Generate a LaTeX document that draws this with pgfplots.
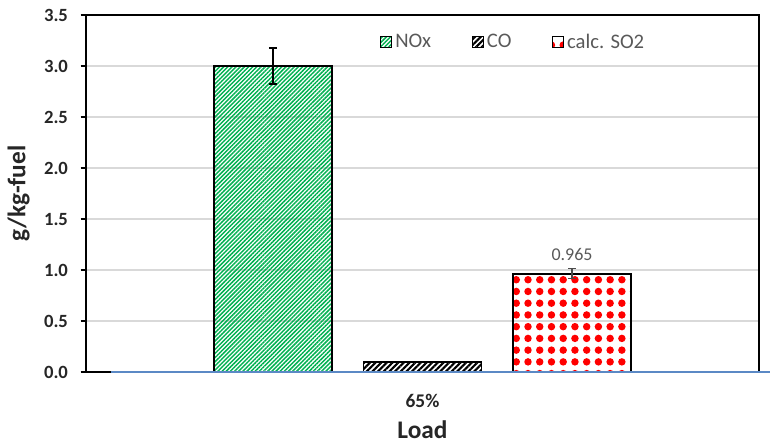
\documentclass[border=0pt]{standalone}
\usepackage{pgfplots}
\pgfplotsset{compat=1.18}
\usetikzlibrary{patterns.meta}
\usepackage{fontspec}
\setmainfont{Carlito}
\definecolor{noxgreen}{RGB}{0,176,80}
\definecolor{gridgray}{RGB}{217,217,217}
\definecolor{txtgray}{RGB}{89,89,89}
\definecolor{axblue}{RGB}{91,137,197}
\begin{document}
\begin{tikzpicture}
\useasboundingbox (0,0) rectangle (577.5pt,333pt);
\begin{axis}[
  at={(64.5pt,54pt)}, anchor=south west,
  scale only axis, width=504.75pt, height=267.75pt,
  xmin=-2.25, xmax=2.25, ymin=0, ymax=3.5,
  ytick={0,0.5,...,3.5},
  xtick={0}, xticklabels={65\%},
  ytick pos=left, tick align=outside,
  major tick length=4pt,
  x tick style={draw=none},
  y tick style={black, line width=1pt},
  ymajorgrids, grid style={gridgray, line width=0.8pt},
  axis line style={black, line width=1.5pt},
  /pgf/number format/assume math mode=true,
  yticklabel style={/pgf/number format/fixed, /pgf/number format/fixed zerofill, /pgf/number format/precision=1, font=\fontsize{14}{16}\selectfont\bfseries, text=black!85, xshift=-6pt},
  xticklabel style={font=\fontsize{14.5}{16}\selectfont\bfseries, text=black!85, yshift=-9pt},
  ylabel={g/kg-fuel}, xlabel={Load},
  ylabel shift=4pt,
  ylabel style={font=\fontsize{19}{21}\selectfont\bfseries, text=black!85},
  xlabel style={font=\fontsize{19}{21}\selectfont\bfseries, text=black!85, yshift=-3pt},
  ybar, bar shift=0pt, bar width=0.789,
  clip=false,
  area legend,
  legend columns=3,
  legend style={draw=none, fill=none, at={(0.636,0.924)}, anchor=center,
    font=\fontsize{15.5}{17}\selectfont, text=txtgray,
    /tikz/every odd column/.append style={column sep=0pt},
    /tikz/every even column/.append style={column sep=28pt},
    nodes={inner xsep=2.6pt}},
  legend image code/.code={\draw[#1, line width=0.6pt] (0pt,-4pt) rectangle (8pt,4pt);},
]
\addplot[draw=black, line width=1.4pt,
  pattern={Lines[angle=45, distance=2.2pt, line width=1.1pt]}, pattern color=noxgreen,
  error bars/.cd, y dir=both, y explicit,
  error bar style={black, line width=1.6pt}, error mark options={black, line width=1.6pt, mark size=3pt, rotate=90}]
  coordinates {(-1,3.0) +- (0,0.18)};
\addlegendentry{NOx}
\addplot[draw=black, line width=1.4pt,
  pattern={Lines[angle=45, distance=3pt, line width=1.6pt]}, pattern color=black]
  coordinates {(0,0.1)};
\addlegendentry{CO}
\addplot[draw=black, line width=1.4pt,
  pattern={Dots[distance=8.8pt, radius=2.8pt]}, pattern color=red,
  nodes near coords,
  every node near coord/.append style={font=\fontsize{13.5}{15}\selectfont, text=txtgray, yshift=6pt,
    /pgf/number format/fixed, /pgf/number format/precision=3},
  error bars/.cd, y dir=both, y explicit,
  error bar style={black!70, line width=1.2pt}, error mark options={black!70, line width=1.2pt, mark size=3pt, rotate=90}]
  coordinates {(1,0.965) +- (0,0.05)};
\addlegendentry{calc. SO2}
\draw[axblue, line width=1.2pt] (rel axis cs:0.037,0) -- (rel axis cs:1.016,0);
\end{axis}
\end{tikzpicture}
\end{document}
